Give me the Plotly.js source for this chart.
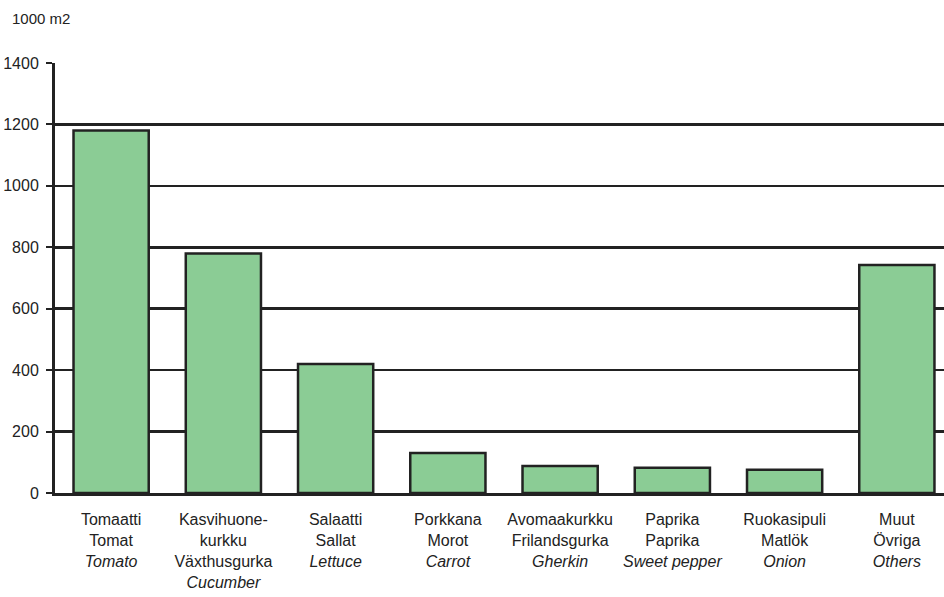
<!DOCTYPE html>
<html>
<head>
<meta charset="utf-8">
<script src="https://cdn.plot.ly/plotly-3.0.1.min.js"></script>
<style>html,body{margin:0;padding:0;background:#fff;}#chart{width:944px;height:597px;}</style>
</head>
<body>
<div id="chart"></div>
<script>
const finnish = ["Tomaatti", "Kasvihuone-<br>kurkku", "Salaatti", "Porkkana", "Avomaakurkku", "Paprika", "Ruokasipuli", "Muut"];
const swedish = ["Tomat", "Växthusgurka", "Sallat", "Morot", "Frilandsgurka", "Paprika", "Matlök", "Övriga"];
const english = ["Tomato", "Cucumber", "Lettuce", "Carrot", "Gherkin", "Sweet pepper", "Onion", "Others"];
const values = [1180, 780, 420, 130, 88, 82, 76, 742];
const yTicks = [0, 200, 400, 600, 800, 1000, 1200, 1400];
const unitLabel = "1000 m2";

const idx = values.map((_, i) => i);
const tickText = idx.map(i => finnish[i] + "<br>" + swedish[i] + "<br><i>" + english[i] + "</i>");

const font = "'Liberation Sans', Arial, sans-serif";

const trace = {
  type: "bar",
  x: idx,
  y: values,
  marker: { color: "#8bcc95", line: { color: "#222222", width: 2.5 } },
  width: 0.67,
  hoverinfo: "skip"
};

const layout = {
  width: 944, height: 597,
  margin: { l: 55, r: 0, t: 63, b: 104 },
  paper_bgcolor: "#ffffff", plot_bgcolor: "#ffffff",
  showlegend: false,
  font: { family: font, size: 16, color: "#222222" },
  xaxis: {
    range: [-0.5, 7.42],
    tickmode: "array", tickvals: idx, ticktext: tickText,
    showgrid: false, zeroline: false,
    showline: true, linecolor: "#222222", linewidth: 3,
    ticks: "", ticklen: 0, ticklabelstandoff: 10,
    tickfont: { family: font, size: 16, color: "#222222" },
    fixedrange: true
  },
  yaxis: {
    range: [0, 1400],
    tickmode: "array", tickvals: yTicks, ticktext: yTicks.map(String),
    showgrid: true, gridcolor: "#222222", gridwidth: 2.5,
    zeroline: false,
    showline: true, linecolor: "#222222", linewidth: 3,
    ticks: "outside", ticklen: 6, tickwidth: 2, tickcolor: "#222222",
    ticklabelstandoff: 4,
    tickfont: { family: font, size: 16, color: "#222222" },
    fixedrange: true
  },
  annotations: [{
    xref: "paper", yref: "paper",
    x: -45/889, y: 1 + 45/430,
    xanchor: "left", yanchor: "middle",
    text: unitLabel, showarrow: false,
    font: { family: font, size: 15, color: "#222222" }
  }]
};

Plotly.newPlot("chart", [trace], layout, { displayModeBar: false, staticPlot: true });
</script>
</body>
</html>
